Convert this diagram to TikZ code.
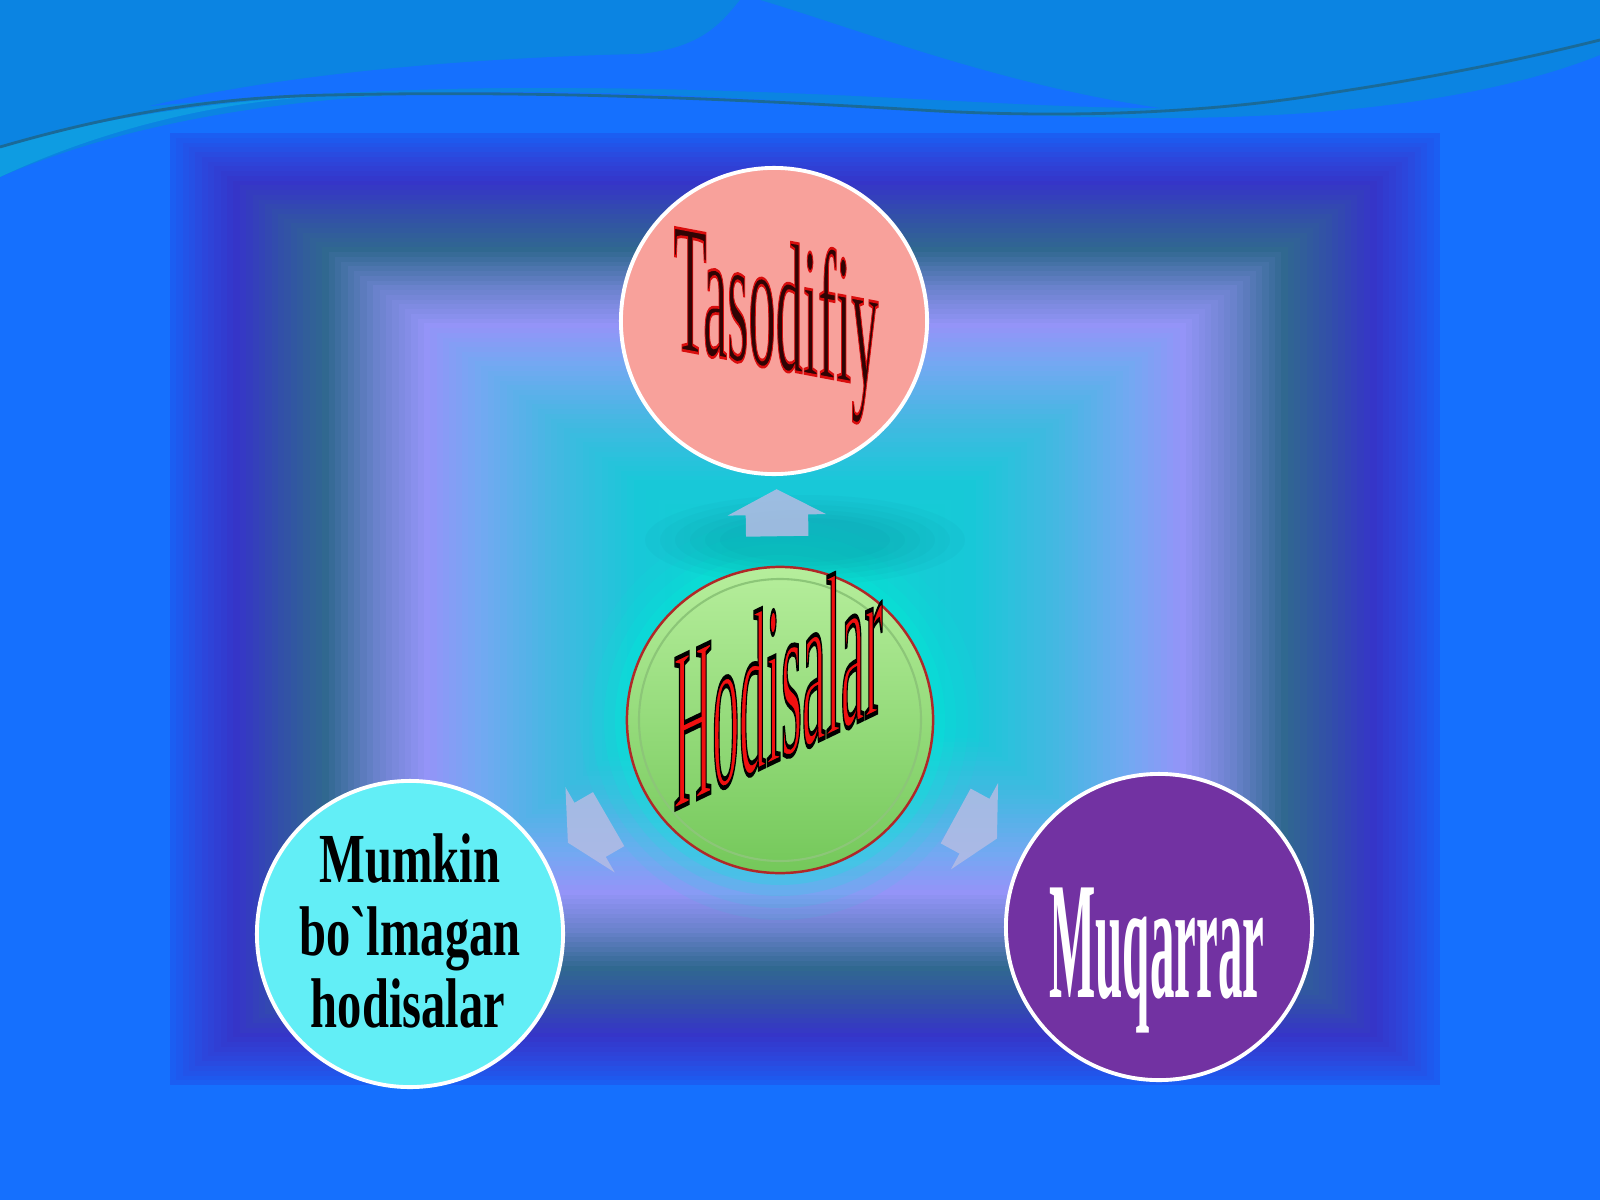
\documentclass[tikz,border=0pt]{standalone}
\usepackage{fontspec}
\setmainfont{Liberation Serif}
\usetikzlibrary{positioning,calc,shapes.arrows}

\definecolor{bgblue}{HTML}{1570FE}
\definecolor{wavetop}{HTML}{0B84E2}
\definecolor{wavecyan}{HTML}{0E9CE2}
\definecolor{waveline}{HTML}{1A6A98}
\definecolor{fr0}{HTML}{1B5EF2}
\definecolor{fr1}{HTML}{2C46DC}
\definecolor{fr2}{HTML}{3535C8}
\definecolor{fr3}{HTML}{3250A8}
\definecolor{fr4}{HTML}{306890}
\definecolor{fr5}{HTML}{6A82CC}
\definecolor{fr6}{HTML}{9494F8}
\definecolor{fr7}{HTML}{74A8F2}
\definecolor{fr8}{HTML}{44B8E2}
\definecolor{fr9}{HTML}{18C8D8}
\definecolor{fr10}{HTML}{10D4D0}
\definecolor{glowcyan}{HTML}{00F0D8}
\definecolor{shadeteal}{HTML}{0A6A80}
\definecolor{tasfill}{HTML}{F8A19B}
\definecolor{tasink}{HTML}{300404}
\definecolor{mumfill}{HTML}{62EEF6}
\definecolor{muqfill}{HTML}{7232A2}
\definecolor{hodtop}{HTML}{B6EE9C}
\definecolor{hodbot}{HTML}{74C85A}
\definecolor{hodrim}{HTML}{B02828}
\definecolor{hodring}{HTML}{8CC678}
\definecolor{hodink}{HTML}{F01010}
\definecolor{arrowgrey}{HTML}{B4BCE4}

% text with a coloured outline: stroke colour, line width, text
\newcommand{\outlined}[3]{{\special{pdf:literal direct #1 RG 2 Tr #2 w}#3\special{pdf:literal direct 0 Tr}}}

\tikzset{
  main/.style={circle, minimum size=3.06cm, inner sep=0pt, draw=white, line width=1.1pt},
  blockarrow/.style={single arrow, draw=none, fill=arrowgrey, fill opacity=0.85, text height=0.61cm, text depth=0cm, text width=0cm, minimum height=0.47cm, single arrow head extend=0.18cm, single arrow tip angle=125, inner sep=0pt, sloped, allow upside down},
  word/.style={inner sep=0pt, anchor=base}
}

\begin{document}
\begin{tikzpicture}[x=0.01cm, y=-0.01cm]
  \useasboundingbox (0,0) rectangle (1600,1200);

  % Background
  \fill[bgblue] (0,0) rectangle (1600,1200);

  % Frame, drawn from the outside in
  \foreach \ca/\cb/\fa/\fb in {fr0/fr1/0/5, fr1/fr2/5/10, fr2/fr3/10/17, fr3/fr4/17/24, fr4/fr5/24/32, fr5/fr6/32/40, fr6/fr7/40/48, fr7/fr8/48/60, fr8/fr9/60/73, fr9/fr10/73/97} {
    \foreach \k in {\fa,...,\fb} {
      \pgfmathtruncatemacro\p{100*(\k-\fa)/(\fb-\fa)}
      \pgfmathsetmacro\s{1-\k/100}
      \fill[\cb!\p!\ca] ({805-635*\s},{609-476*\s}) rectangle ({805+635*\s},{609+476*\s});
    }
  }

  % Wave
  \fill[wavetop] (0,0) -- (1600,0) -- (1600,55) .. controls (1500,95) and (1350,118) .. (1160,118) .. controls (950,118) and (750,90) .. (480,92) .. controls (280,95) and (120,125) .. (0,177) -- cycle;
  \fill[bgblue] (150,106) .. controls (300,70) and (500,57) .. (640,54) .. controls (700,48) and (720,25) .. (740,0) -- (760,0) .. controls (860,30) and (1000,85) .. (1160,108) .. controls (1000,108) and (800,86) .. (500,88) .. controls (350,90) and (250,98) .. (150,106) -- cycle;
  \fill[wavecyan] (0,147) .. controls (100,118) and (220,100) .. (330,96) .. controls (220,100) and (100,130) .. (0,177) -- cycle;
  \draw[waveline, line width=0.8pt] (0,147) .. controls (120,112) and (220,97) .. (330,95) .. controls (550,90) and (750,100) .. (920,110) .. controls (1050,118) and (1200,115) .. (1330,93) .. controls (1430,78) and (1520,60) .. (1600,40);

  % Glow and shadow round the middle
  \coordinate (hodc) at (780,720);
  \foreach \r/\o in {200/0.08, 188/0.1, 176/0.14, 165/0.2} {
    \fill[glowcyan, opacity=\o] (hodc) circle (\r);
  }
  \foreach \rx/\ry in {160/45, 145/40, 130/35, 115/30, 100/26, 85/22} {
    \fill[shadeteal, opacity=0.045] (805,540) ellipse ({\rx} and {\ry});
  }

  % Circles
  \node[main, fill=tasfill] (tas) at (774,321) {};
  \node[main, draw=hodrim, line width=0.7pt, top color=hodtop, bottom color=hodbot] (hod) at (hodc) {};
  \draw[hodring, line width=0.6pt] (hod.center) circle (141);
  \node[main, fill=mumfill] (mum) at (410,934) {};
  \node[main, fill=muqfill] (muq) at (1159,927) {};

  % Arrows
  \path (hod) -- (tas) node[blockarrow, midway] (a_tas) {};
  \path (hod) -- (mum) node[blockarrow, midway] (a_mum) {};
  \path (hod) -- (muq) node[blockarrow, midway] (a_muq) {};

  % Labels
  \node[word, yslant=-0.19, xscale=0.455, yscale=1.55, text=tasink, font=\fontsize{34}{34}\selectfont] (l_tas) at (776,368) {\outlined{0.85 0.05 0.05}{0.5}{Tasodifiy}};
  \node[word, yslant=0.48, xscale=0.45, yscale=1.92, text=hodink, font=\fontsize{34}{34}\selectfont] (l_hod) at (778,760) {\outlined{0 0 0}{0.7}{Hodisalar}};
  \node[word, xscale=0.69, font=\bfseries\fontsize{20}{20}\selectfont] (l_mum1) at (410,882) {Mumkin};
  \node[word, xscale=0.69, font=\bfseries\fontsize{20}{20}\selectfont] (l_mum2) at (410,955) {bo\textasciigrave lmagan};
  \node[word, xscale=0.69, font=\bfseries\fontsize{20}{20}\selectfont] (l_mum3) at (408,1027) {hodisalar};
  \node[word, xscale=0.41, yscale=1.4, text=white, font=\bfseries\fontsize{34}{34}\selectfont] (l_muq) at (1157,997) {Muqarrar};
\end{tikzpicture}
\end{document}
